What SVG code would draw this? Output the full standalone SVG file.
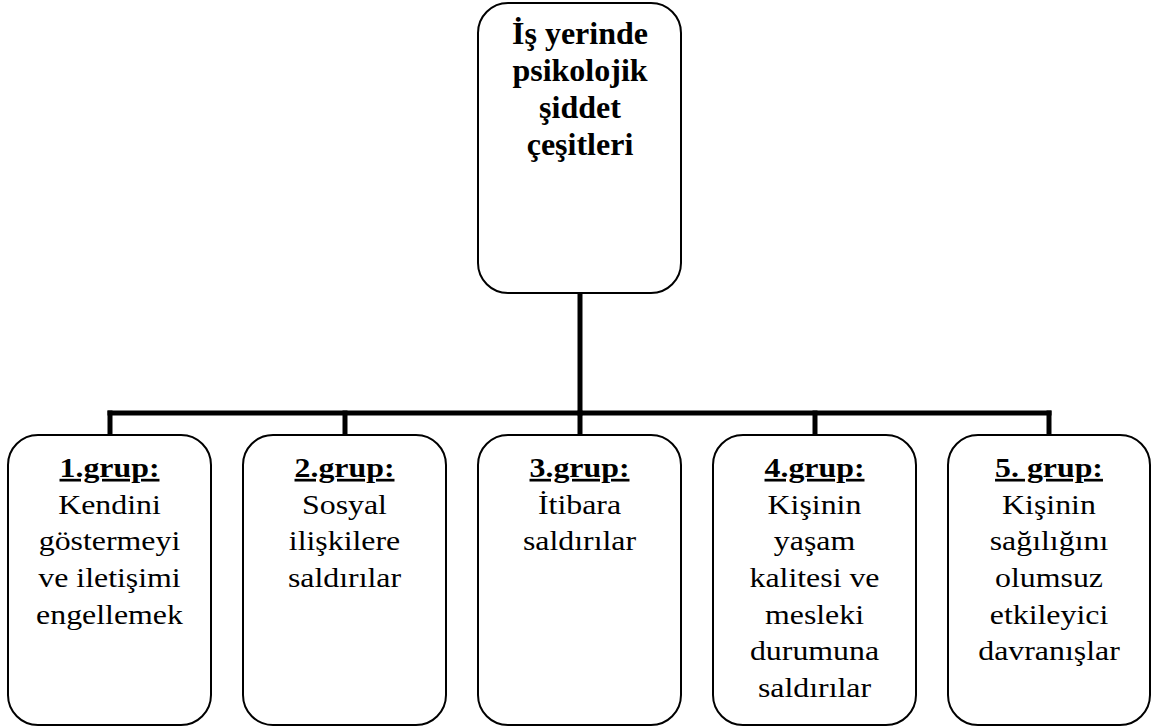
<svg xmlns="http://www.w3.org/2000/svg" width="1159" height="727" viewBox="0 0 1159 727">
<style>
.box{fill:#fff;stroke:#000;stroke-width:2}
.conn{fill:none;stroke:#000;stroke-width:5;stroke-linecap:square}
text{font-family:'Liberation Serif','Times New Roman','DejaVu Serif',serif;fill:#000;text-anchor:middle}
.t{font-size:27px}
.h{font-weight:bold;text-decoration:underline}
.top{font-size:32px;font-weight:bold}
</style>
<rect width="1159" height="727" fill="#fff"/>
<g id="connectors">
<line class="conn" x1="580" y1="294" x2="580" y2="413"/>
<line class="conn" x1="110" y1="413" x2="1049" y2="413"/>
<line class="conn" x1="110" y1="413" x2="110" y2="434"/>
<line class="conn" x1="345" y1="413" x2="345" y2="434"/>
<line class="conn" x1="580" y1="413" x2="580" y2="434"/>
<line class="conn" x1="815" y1="413" x2="815" y2="434"/>
<line class="conn" x1="1049" y1="413" x2="1049" y2="434"/>
</g>
<g id="root" font-family="Liberation Serif, serif">
<rect class="box" x="478" y="3" width="203" height="290" rx="30" ry="30"/>
<text class="top" x="580" y="44">İş yerinde</text>
<text class="top" x="580" y="81">psikolojik</text>
<text class="top" x="580" y="118">şiddet</text>
<text class="top" x="580" y="155">çeşitleri</text>
</g>
<g id="g1">
<rect class="box" x="8" y="435" width="203" height="290" rx="30" ry="30"/>
<g transform="matrix(1.18 0 0 1 109.5 0)">
<text class="t h" x="0" y="477">1.grup:</text>
<text class="t" x="0" y="513.7">Kendini</text>
<text class="t" x="0" y="550.4">göstermeyi</text>
<text class="t" x="0" y="587.1">ve iletişimi</text>
<text class="t" x="0" y="623.8">engellemek</text>
</g>
</g>
<g id="g2">
<rect class="box" x="243" y="435" width="203" height="290" rx="30" ry="30"/>
<g transform="matrix(1.18 0 0 1 344.5 0)">
<text class="t h" x="0" y="477">2.grup:</text>
<text class="t" x="0" y="513.7">Sosyal</text>
<text class="t" x="0" y="550.4">ilişkilere</text>
<text class="t" x="0" y="587.1">saldırılar</text>
</g>
</g>
<g id="g3">
<rect class="box" x="478" y="435" width="203" height="290" rx="30" ry="30"/>
<g transform="matrix(1.18 0 0 1 579.5 0)">
<text class="t h" x="0" y="477">3.grup:</text>
<text class="t" x="0" y="513.7">İtibara</text>
<text class="t" x="0" y="550.4">saldırılar</text>
</g>
</g>
<g id="g4">
<rect class="box" x="713" y="435" width="203" height="290" rx="30" ry="30"/>
<g transform="matrix(1.18 0 0 1 814.5 0)">
<text class="t h" x="0" y="477">4.grup:</text>
<text class="t" x="0" y="513.7">Kişinin</text>
<text class="t" x="0" y="550.4">yaşam</text>
<text class="t" x="0" y="587.1">kalitesi ve</text>
<text class="t" x="0" y="623.8">mesleki</text>
<text class="t" x="0" y="660.5">durumuna</text>
<text class="t" x="0" y="697.2">saldırılar</text>
</g>
</g>
<g id="g5">
<rect class="box" x="948" y="435" width="202" height="290" rx="30" ry="30"/>
<g transform="matrix(1.18 0 0 1 1049 0)">
<text class="t h" x="0" y="477">5. grup:</text>
<text class="t" x="0" y="513.7">Kişinin</text>
<text class="t" x="0" y="550.4">sağılığını</text>
<text class="t" x="0" y="587.1">olumsuz</text>
<text class="t" x="0" y="623.8">etkileyici</text>
<text class="t" x="0" y="660.5">davranışlar</text>
</g>
</g>
</svg>
